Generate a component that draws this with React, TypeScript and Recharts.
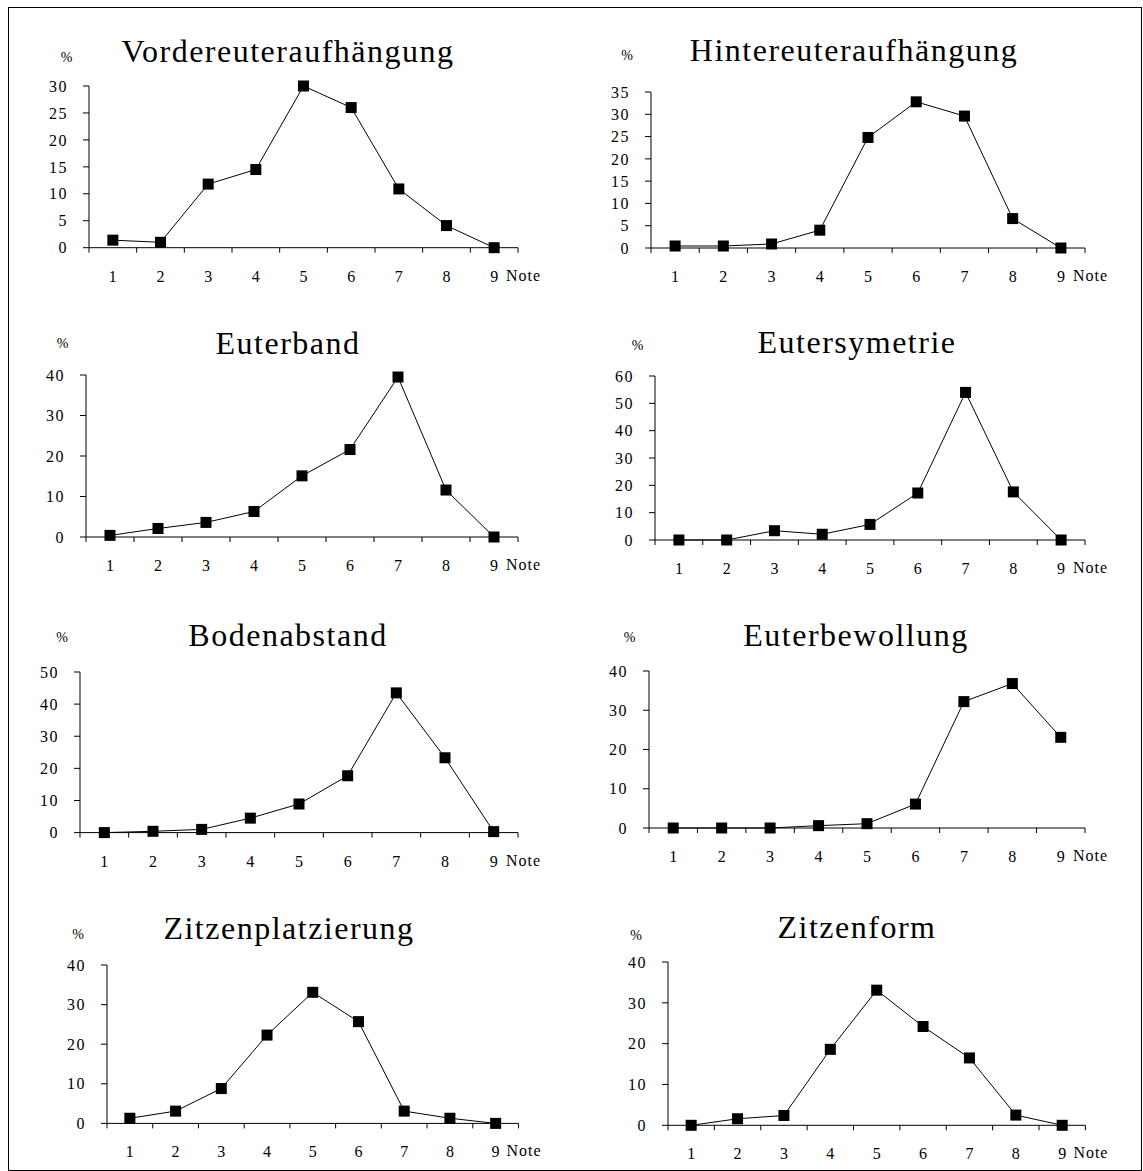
import { LineChart, Line, XAxis, YAxis } from 'recharts';

// Notenskala und Anteile (%) je Merkmal
const NOTES = [1, 2, 3, 4, 5, 6, 7, 8, 9];
const vordereuter = [1.4, 1.0, 11.8, 14.5, 30, 26, 10.9, 4.1, 0];
const hintereuter = [0.45, 0.45, 0.9, 4.0, 24.8, 32.8, 29.6, 6.6, 0];
const euterband = [0.4, 2.1, 3.6, 6.3, 15.1, 21.6, 39.5, 11.6, 0];
const eutersymetrie = [0, 0, 3.4, 2.1, 5.7, 17.2, 54, 17.6, 0];
const bodenabstand = [0, 0.4, 1.0, 4.5, 8.9, 17.7, 43.5, 23.3, 0.3];
const euterbewollung = [0, 0, 0, 0.6, 1.1, 6.1, 32.2, 36.8, 23.1];
const zitzenplatzierung = [1.3, 3.1, 8.8, 22.3, 33.1, 25.7, 3.1, 1.3, 0];
const zitzenform = [0, 1.6, 2.4, 18.6, 33.1, 24.2, 16.5, 2.5, 0];

const ticks30 = [0, 5, 10, 15, 20, 25, 30];
const ticks35 = [0, 5, 10, 15, 20, 25, 30, 35];
const ticks40 = [0, 10, 20, 30, 40];
const ticks50 = [0, 10, 20, 30, 40, 50];
const ticks60 = [0, 10, 20, 30, 40, 50, 60];

// tick lines sit between the notes
const betweenTicks = [0.5, 1.5, 2.5, 3.5, 4.5, 5.5, 6.5, 7.5, 8.5, 9.5];

const FONT = '"Liberation Serif", "Times New Roman", serif';
const Y_AXIS_W = 70;
const TOP_PAD = 10;
const RIGHT_PAD = 60;
const X_AXIS_H = 50;

interface Panel {
  title: string;
  values: number[];
  yTicks: number[];
  // plot area in page px
  left: number;
  right: number;
  top: number;
  bottom: number;
  titleX: number;
  titleY: number;
  pctX: number;
  pctY: number;
}

const panels: Panel[] = [
  { title: 'Vordereuteraufhängung', values: vordereuter, yTicks: ticks30, left: 89, right: 518, top: 86, bottom: 247.7, titleX: 288, titleY: 61.7, pctX: 66.5, pctY: 61.7 },
  { title: 'Hintereuteraufhängung', values: hintereuter, yTicks: ticks35, left: 651, right: 1085, top: 91.7, bottom: 247.7, titleX: 854, titleY: 61, pctX: 627, pctY: 60 },
  { title: 'Euterband', values: euterband, yTicks: ticks40, left: 86, right: 518, top: 375, bottom: 537, titleX: 288, titleY: 354, pctX: 62.5, pctY: 348 },
  { title: 'Eutersymetrie', values: eutersymetrie, yTicks: ticks60, left: 655, right: 1085, top: 376, bottom: 540, titleX: 857, titleY: 353, pctX: 637.6, pctY: 350 },
  { title: 'Bodenabstand', values: bodenabstand, yTicks: ticks50, left: 80, right: 518, top: 671.7, bottom: 832.3, titleX: 288, titleY: 646, pctX: 62, pctY: 641.7 },
  { title: 'Euterbewollung', values: euterbewollung, yTicks: ticks40, left: 649, right: 1085, top: 670.7, bottom: 827.7, titleX: 856, titleY: 646, pctX: 629.6, pctY: 641.7 },
  { title: 'Zitzenplatzierung', values: zitzenplatzierung, yTicks: ticks40, left: 106.5, right: 518, top: 965.3, bottom: 1123.7, titleX: 289, titleY: 939, pctX: 78, pctY: 939 },
  { title: 'Zitzenform', values: zitzenform, yTicks: ticks40, left: 667.6, right: 1085, top: 961.7, bottom: 1125, titleX: 857, titleY: 938, pctX: 636, pctY: 940 },
];

const SquareDot = (props: any) => {
  const { cx, cy, index } = props;
  if (cx == null || cy == null) return null;
  return <rect key={`sq-${index}`} x={cx - 5.5} y={cy - 5.5} width={11} height={11} fill="#000" />;
};

const renderXTick = (props: any, band: number) => {
  const { x, y, payload } = props;
  if (payload.value >= 9.5) {
    return (
      <text x={x - 12} y={y + 28} fontFamily={FONT} fontSize={16} letterSpacing={1} fill="#000" textAnchor="start">
        Note
      </text>
    );
  }
  return (
    <text x={x + band / 2} y={y + 29} fontFamily={FONT} fontSize={16} fill="#000" textAnchor="middle">
      {payload.value + 0.5}
    </text>
  );
};

function PanelChart({ p }: { p: Panel }) {
  const data = NOTES.map((n, i) => ({ note: n, v: p.values[i] }));
  const plotW = p.right - p.left;
  const plotH = p.bottom - p.top;
  const band = plotW / 9;
  return (
    <div
      style={{
        position: 'absolute',
        left: p.left - Y_AXIS_W,
        top: p.top - TOP_PAD,
      }}
    >
      <LineChart
        width={plotW + Y_AXIS_W + RIGHT_PAD}
        height={plotH + TOP_PAD + X_AXIS_H}
        data={data}
        margin={{ top: TOP_PAD, right: RIGHT_PAD, bottom: 0, left: 0 }}
      >
        <XAxis
          type="number"
          dataKey="note"
          domain={[0.5, 9.5]}
          ticks={betweenTicks}
          interval={0}
          height={X_AXIS_H}
          tickSize={5}
          tickMargin={0}
          axisLine={{ stroke: '#000' }}
          tickLine={{ stroke: '#000' }}
          tick={(t: any) => renderXTick(t, band)}
        />
        <YAxis
          type="number"
          domain={[0, p.yTicks[p.yTicks.length - 1]]}
          ticks={p.yTicks}
          interval={0}
          width={Y_AXIS_W}
          tickSize={6}
          tickMargin={15}
          axisLine={{ stroke: '#000' }}
          tickLine={{ stroke: '#000' }}
          tick={{ fill: '#000', fontSize: 16, fontFamily: FONT, letterSpacing: 1.5 }}
        />
        <Line
          type="linear"
          dataKey="v"
          stroke="#000"
          strokeWidth={1}
          dot={<SquareDot />}
          activeDot={false}
          isAnimationActive={false}
        />
      </LineChart>
    </div>
  );
}

export default function App() {
  return (
    <div style={{ position: 'relative', width: 1143, height: 1171, background: '#fff', overflow: 'hidden' }}>
      <style>{'body{margin:0;background:#fff}'}</style>
      <div
        style={{
          position: 'absolute',
          left: 8,
          top: 7,
          width: 1134,
          height: 1164,
          border: '1px solid #000',
          boxSizing: 'border-box',
        }}
      />
      {panels.map((p) => (
        <PanelChart key={p.title} p={p} />
      ))}
      <svg width={1143} height={1171} style={{ position: 'absolute', left: 0, top: 0, pointerEvents: 'none' }}>
        {panels.map((p) => (
          <g key={p.title} fontFamily={FONT} fill="#000">
            <text x={p.titleX} y={p.titleY} fontSize={32} letterSpacing={1.5} textAnchor="middle">
              {p.title}
            </text>
            <text x={p.pctX} y={p.pctY} fontSize={14} textAnchor="middle">
              %
            </text>
          </g>
        ))}
      </svg>
    </div>
  );
}
